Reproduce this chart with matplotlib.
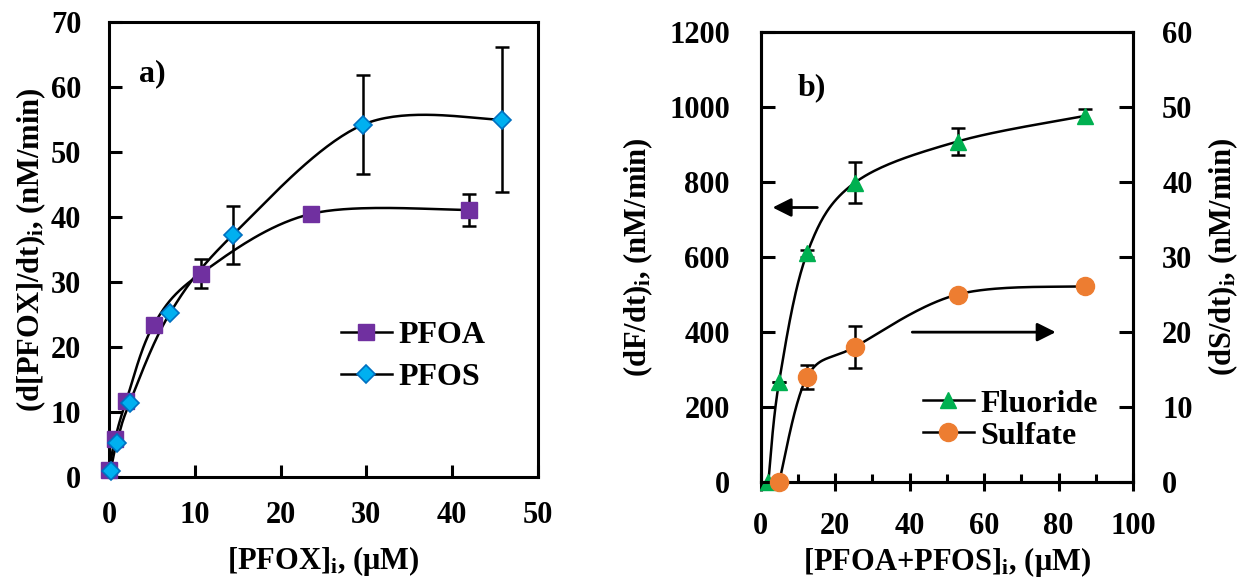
import numpy as np
import matplotlib.pyplot as plt
from matplotlib.lines import Line2D

plt.rcParams['font.family'] = 'Liberation Serif'
plt.rcParams['font.weight'] = 'bold'
plt.rcParams['mathtext.fontset'] = 'custom'
plt.rcParams['mathtext.rm'] = 'Liberation Serif:bold'
plt.rcParams['mathtext.bf'] = 'Liberation Serif:bold'
plt.rcParams['mathtext.it'] = 'Liberation Serif:bold'

# panel a data
pfoa_x = [0, 0.7, 2.0, 5.2, 10.7, 23.6, 41.9]
pfoa_y = [1.1, 5.8, 11.7, 23.4, 31.3, 40.5, 41.1]
pfoa_err = [0, 0, 0, 0, 2.2, 1.0, 2.5]
pfos_x = [0.2, 0.9, 2.4, 7.1, 14.4, 29.6, 45.8]
pfos_y = [1.0, 5.3, 11.4, 25.2, 37.2, 54.2, 55.0]
pfos_err = [0, 0, 0, 0, 4.5, 7.6, 11.2]

# panel b data
conc_f = [2.1, 5.0, 12.5, 25.3, 52.9, 87.0]
fluoride = [0, 268, 610, 798, 908, 976]
fluoride_err = [0, 0, 10, 55, 35, 18]
conc_s = [5.0, 12.5, 25.3, 52.9, 87.0]
sulfate = [0, 14.0, 18.0, 25.0, 26.1]
sulfate_err = [0, 1.6, 2.8, 0, 0]

FS = 22
LW = 2.2


def smooth(ax, xs, ys, n=40):
    # excel-style bezier smoothing, done in screen space
    pts = ax.transData.transform(np.column_stack([xs, ys]))
    out = []
    m = len(pts)
    for i in range(m - 1):
        p0 = pts[i - 1] if i > 0 else pts[i]
        p1 = pts[i]
        p2 = pts[i + 1]
        p3 = pts[i + 2] if i + 2 < m else pts[i + 1]
        c1 = p1 + (p2 - p0) / 6.0
        c2 = p2 - (p3 - p1) / 6.0
        t = np.linspace(0, 1, n)[:, None]
        seg = ((1 - t) ** 3) * p1 + 3 * ((1 - t) ** 2) * t * c1 + 3 * (1 - t) * t ** 2 * c2 + t ** 3 * p2
        out.append(seg)
    out = np.vstack(out)
    d = ax.transData.inverted().transform(out)
    return d[:, 0], d[:, 1]


def style(ax):
    for s in ax.spines.values():
        s.set_linewidth(LW)
    ax.tick_params(labelsize=FS, width=LW)


fig = plt.figure(figsize=(12.39, 5.83), dpi=100)

# ---------- a) ----------
ax = fig.add_axes([109 / 1239, 1 - 477 / 583, 429 / 1239, 455 / 583])
ax.set_xlim(0, 50)
ax.set_ylim(0, 70)
style(ax)
ax.tick_params(direction='in', length=9, pad=20)
ax.tick_params(axis='x', pad=17)
ax.set_xticks(range(0, 51, 10))
ax.set_yticks(range(0, 71, 10))

sx, sy = smooth(ax, pfoa_x, pfoa_y)
ax.plot(sx, sy, color='k', lw=1.8, zorder=2)
sx, sy = smooth(ax, pfos_x, pfos_y)
ax.plot(sx, sy, color='k', lw=1.8, zorder=2)
ax.errorbar(pfoa_x, pfoa_y, yerr=pfoa_err, fmt='none', ecolor='k', elinewidth=1.8,
            capsize=5, capthick=1.8, zorder=3)
ax.errorbar(pfos_x, pfos_y, yerr=pfos_err, fmt='none', ecolor='k', elinewidth=1.8,
            capsize=5, capthick=1.8, zorder=3)
ax.plot(pfoa_x, pfoa_y, ls='none', marker='s', ms=11, mfc='#7030A0', mec='#7030A0', zorder=4, clip_on=False)
ax.plot(pfos_x, pfos_y, ls='none', marker='D', ms=9, mfc='#00B0F0', mec='#0070C0', mew=1.2, zorder=5, clip_on=False)

h = [Line2D([], [], color='k', lw=1.8, marker='s', ms=11, mfc='#7030A0', mec='#7030A0'),
     Line2D([], [], color='k', lw=1.8, marker='D', ms=9, mfc='#00B0F0', mec='#0070C0', mew=1.2)]
ax.legend(h, ['PFOA', 'PFOS'], loc='center left', bbox_to_anchor=(0.54, 0.265), frameon=False,
          fontsize=23, borderpad=0, handlelength=1.6, handletextpad=0.2, labelspacing=0.42,
          borderaxespad=0)
ax.text(0.07, 0.87, 'a)', transform=ax.transAxes, fontsize=23, fontweight='bold')
ax.set_xlabel(r'[PFOX]$_\mathbf{i}$, (μM)', fontsize=FS, fontweight='bold', labelpad=10)
ax.set_ylabel(r'(d[PFOX]/dt)$_\mathbf{i}$, (nM/min)', fontsize=FS, fontweight='bold', labelpad=2)

# ---------- b) ----------
bx = fig.add_axes([760.5 / 1239, 1 - 482 / 583, 372.5 / 1239, 450 / 583])
bx.set_xlim(0, 100)
bx.set_ylim(0, 1200)
style(bx)
bx.set_xticks(range(0, 101, 20))
bx.set_xticks(range(10, 100, 20), minor=True)
bx.set_yticks(range(0, 1201, 200))
bx.tick_params(axis='x', which='major', direction='inout', length=13, pad=15)
bx.tick_params(axis='x', which='minor', direction='in', length=6, width=LW)
bx.tick_params(axis='y', direction='in', length=10, pad=22)
bx2 = bx.twinx()
bx2.set_ylim(0, 60)
bx2.set_yticks(range(0, 61, 10))
style(bx2)
bx2.tick_params(axis='y', direction='in', length=10, pad=21)

sx, sy = smooth(bx, conc_f, fluoride)
bx.plot(sx, sy, color='k', lw=1.8, zorder=2)
bx.errorbar(conc_f, fluoride, yerr=fluoride_err, fmt='none', ecolor='k', elinewidth=1.8,
            capsize=5, capthick=1.8, zorder=3)
bx.plot(conc_f, fluoride, ls='none', marker='^', ms=12, mfc='#00B050', mec='#00B050', zorder=4, clip_on=False)

sx, sy = smooth(bx2, conc_s, sulfate)
bx2.plot(sx, sy, color='k', lw=1.8, zorder=2)
bx2.errorbar(conc_s, sulfate, yerr=sulfate_err, fmt='none', ecolor='k', elinewidth=1.8,
             capsize=5, capthick=1.8, zorder=3)
bx2.plot(conc_s, sulfate, ls='none', marker='o', ms=13, mfc='#ED7D31', mec='#ED7D31', zorder=4, clip_on=False)

bx2.annotate('', xy=(0.025, 0.61), xytext=(0.16, 0.61), xycoords='axes fraction',
             arrowprops=dict(arrowstyle='-|>', color='k', lw=2, mutation_scale=28))
bx2.annotate('', xy=(0.80, 0.333), xytext=(0.40, 0.333), xycoords='axes fraction',
             arrowprops=dict(arrowstyle='-|>', color='k', lw=2, mutation_scale=28))

h = [Line2D([], [], color='k', lw=1.8, marker='^', ms=12, mfc='#00B050', mec='#00B050'),
     Line2D([], [], color='k', lw=1.8, marker='o', ms=13, mfc='#ED7D31', mec='#ED7D31')]
bx2.legend(h, ['Fluoride', 'Sulfate'], loc='center left', bbox_to_anchor=(0.435, 0.138), frameon=False,
           fontsize=23, borderpad=0, handlelength=1.6, handletextpad=0.2, labelspacing=0.08,
           borderaxespad=0)
bx2.text(0.1, 0.86, 'b)', transform=bx2.transAxes, fontsize=23, fontweight='bold')
bx.set_xlabel(r'[PFOA+PFOS]$_\mathbf{i}$, (μM)', fontsize=FS, fontweight='bold', labelpad=3)
bx.set_ylabel(r'(dF/dt)$_\mathbf{i}$, (nM/min)', fontsize=FS, fontweight='bold', labelpad=10)
bx2.set_ylabel(r'(dS/dt)$_\mathbf{i}$, (nM/min)', fontsize=FS, fontweight='bold', labelpad=10)

fig.savefig('out.png', dpi=100)
